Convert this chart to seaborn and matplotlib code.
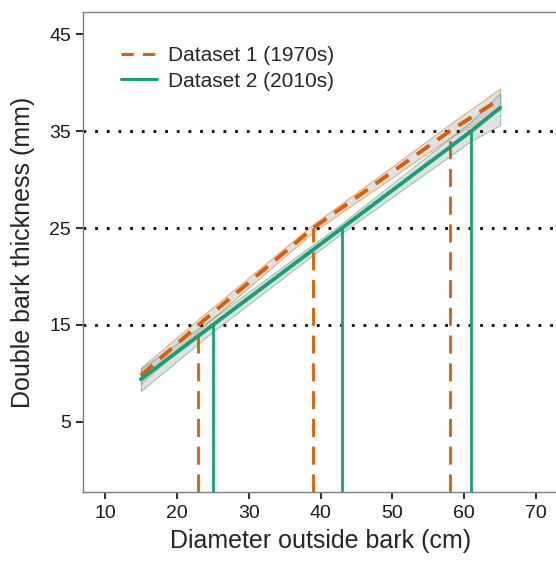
import matplotlib
matplotlib.use("Agg")
import matplotlib.pyplot as plt
import seaborn as sns
import pandas as pd
import numpy as np

# Data
x1 = [15, 23, 39, 58, 65]
y1 = [9.8, 15, 25, 35, 38.3]
lo1 = [8.9, 14.4, 24.6, 34.3, 37.2]
hi1 = [10.6, 15.6, 25.4, 35.7, 39.4]

x2 = [15, 25, 43, 61, 65]
y2 = [9.4, 15, 25, 35, 37.4]
lo2 = [8.2, 14.3, 24.5, 34.0, 35.6]
hi2 = [10.5, 15.7, 25.5, 36.0, 38.9]

labels = ["Dataset 1 (1970s)", "Dataset 2 (2010s)"]
ref_levels = [15, 25, 35]
cross1 = [23, 39, 58]
cross2 = [25, 43, 61]
xticks = [10, 20, 30, 40, 50, 60, 70]
yticks = [5, 15, 25, 35, 45]

c1 = "#D95F02"
c2 = "#1B9E77"

sns.set_style("white")
plt.rcParams['font.family'] = ['Liberation Sans', 'DejaVu Sans']

fig = plt.figure(figsize=(5.56, 5.62), dpi=100)
ax = fig.add_axes([0.150, 0.124, 0.8529, 0.8543])

df = pd.concat([
    pd.DataFrame({"x": x1, "y": y1, "d": labels[0]}),
    pd.DataFrame({"x": x2, "y": y2, "d": labels[1]}),
])

# bands
ax.fill_between(x1, lo1, hi1, facecolor="#bdbdbd", alpha=0.45, edgecolor=c1, linewidth=0.8, zorder=1)
ax.fill_between(x2, lo2, hi2, facecolor="#bdbdbd", alpha=0.45, edgecolor=c2, linewidth=0.8, zorder=1)

# horizontal reference lines
for lv in ref_levels:
    ax.axhline(lv, color="black", linestyle=(0, (1, 3.2)), linewidth=2.0, zorder=2)

ymin = -2.25
ax.vlines(cross1, ymin, ref_levels, colors=c1, linestyles=(0, (6.5, 3.5)), linewidth=2.0, zorder=3)
ax.vlines(cross2, ymin, ref_levels, colors=c2, linestyles="solid", linewidth=2.0, zorder=3)

sns.lineplot(data=df, x="x", y="y", hue="d", style="d",
             palette=[c1, c2], dashes=[(4, 2.5), ""], linewidth=2.8,
             ax=ax, zorder=4, legend=False)

from matplotlib.lines import Line2D
handles = [Line2D([], [], color=c1, lw=2.2, linestyle=(0, (4, 3))),
           Line2D([], [], color=c2, lw=2.2)]
ax.legend(handles, labels, loc="upper left", bbox_to_anchor=(0.04, 0.968),
          frameon=False, fontsize=15, handlelength=1.7, handletextpad=0.55,
          labelspacing=0.3)

ax.set_xlim(7, 73)
ax.set_ylim(-2.25, 47.25)
ax.set_xticks(xticks)
ax.set_yticks(yticks)
ax.tick_params(axis="both", which="both", length=5, width=1.5, color="#333333",
               labelsize=14, labelcolor="#1a1a1a", direction="out", bottom=True, left=True, pad=4)
for s in ["left", "bottom", "top", "right"]:
    ax.spines[s].set_color("#7f7f7f")
    ax.spines[s].set_linewidth(1.0)

ax.set_xlabel("Diameter outside bark (cm)", fontsize=18, labelpad=5)
ax.set_ylabel("Double bark thickness (mm)", fontsize=18, labelpad=10)

fig.savefig("out.png", dpi=100)
